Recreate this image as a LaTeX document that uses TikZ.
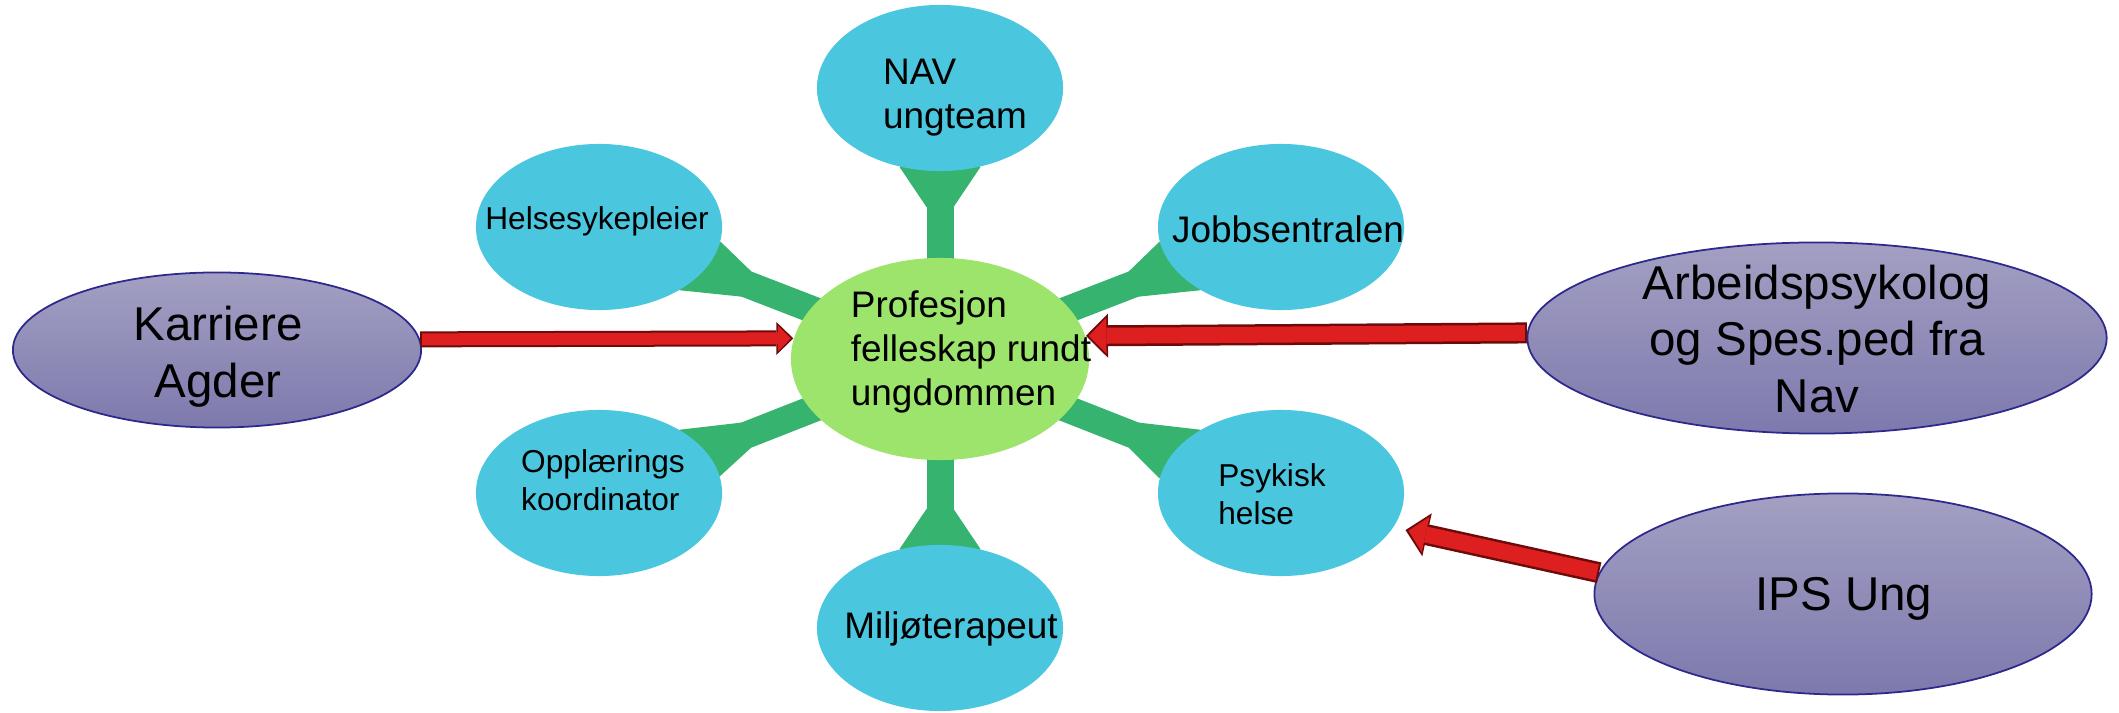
\documentclass[tikz,border=0pt]{standalone}
\usepackage{fontspec}
\setmainfont{Liberation Sans}
\usetikzlibrary{shapes.geometric,arrows.meta,calc,backgrounds}

\definecolor{ringblue}{RGB}{74,198,223}
\definecolor{hubgreen}{RGB}{157,228,108}
\definecolor{spokegreen}{RGB}{53,179,111}
\definecolor{partnertop}{RGB}{163,160,195}
\definecolor{partnerbot}{RGB}{125,121,173}
\definecolor{partnerline}{RGB}{45,40,140}
\definecolor{arrowred}{RGB}{221,31,31}
\definecolor{arrowdark}{RGB}{110,10,10}

\tikzset{
  ring/.style={ellipse,fill=ringblue,inner sep=0pt,minimum width=2.46cm,minimum height=1.66cm},
  hubnode/.style={ellipse,fill=hubgreen,inner sep=0pt,minimum width=2.98cm,minimum height=2.02cm},
  partner/.style={ellipse,draw=partnerline,line width=0.5pt,top color=partnertop,bottom color=partnerbot,inner sep=0pt},
  txt/.style={inner sep=0pt,align=left},
  smalltxt/.style={txt,font=\fontsize{9}{10.8}\selectfont},
  midtxt/.style={txt,font=\fontsize{10.5}{12.5}\selectfont},
  bigtxt/.style={txt,align=center,font=\fontsize{13.5}{16.1}\selectfont},
  spoke/.style={spokegreen,line width=0.27cm},
  bigarrow/.style={draw=arrowdark,line width=0.21cm,-{Triangle[length=0.22cm,width=0.44cm,line width=0pt]},
    postaction={draw=arrowred,line width=0.16cm,-{Triangle[length=0.175cm,width=0.36cm,line width=0pt]},shorten >=0.03cm,shorten <=0.02cm}},
  slimarrow/.style={draw=arrowdark,line width=0.16cm,-{Triangle[length=0.17cm,width=0.33cm,line width=0pt]},
    postaction={draw=arrowred,line width=0.12cm,-{Triangle[length=0.13cm,width=0.26cm,line width=0pt]},shorten >=0.025cm,shorten <=0.02cm}}
}

\begin{document}
\begin{tikzpicture}[x=0.01cm,y=-0.01cm]
  \useasboundingbox (0,0) rectangle (2119,713);
  % Hub
  \node[hubnode] (hub) at (940,359) {};
  % Ring
  \node[ring] (nav) at (940,88) {};
  \node[ring] (helse) at (599,227) {};
  \node[ring] (jobb) at (1281,227) {};
  \node[ring] (oppl) at (599,493) {};
  \node[ring] (psyk) at (1281,493) {};
  \node[ring] (milj) at (940,628) {};
  % Partners
  \node[partner,minimum width=4.08cm,minimum height=1.55cm] (karr) at (217,350) {};
  \node[partner,minimum width=5.79cm,minimum height=1.91cm] (arb) at (1817,338) {};
  \node[partner,minimum width=4.97cm,minimum height=2.01cm] (ips) at (1843,594) {};
  % Spokes
  \begin{scope}[on background layer]
    \draw[spoke] (hub.center) -- (nav.center);
    \draw[spoke] (hub.center) -- (helse.center);
    \draw[spoke] (hub.center) -- (jobb.center);
    \draw[spoke] (hub.center) -- (oppl.center);
    \draw[spoke] (hub.center) -- (psyk.center);
    \draw[spoke] (hub.center) -- (milj.center);
    \fill[spokegreen] (nav.243) -- ($(nav)!1.198cm!-6.47:(hub)$) -- ($(nav)!1.198cm!6.47:(hub)$) -- (nav.297) -- (nav.center) -- cycle;
    \fill[spokegreen] (milj.63) -- ($(milj)!1.198cm!-6.47:(hub)$) -- ($(milj)!1.198cm!6.47:(hub)$) -- (milj.117) -- (milj.center) -- cycle;
    \fill[spokegreen] (helse.322) -- ($(helse)!1.586cm!-4.88:(hub)$) -- ($(helse)!1.586cm!4.88:(hub)$) -- (helse.353) -- (helse.center) -- cycle;
    \fill[spokegreen] (jobb.187) -- ($(jobb)!1.586cm!-4.88:(hub)$) -- ($(jobb)!1.586cm!4.88:(hub)$) -- (jobb.218) -- (jobb.center) -- cycle;
    \fill[spokegreen] (oppl.8) -- ($(oppl)!1.586cm!-4.88:(hub)$) -- ($(oppl)!1.586cm!4.88:(hub)$) -- (oppl.38) -- (oppl.center) -- cycle;
    \fill[spokegreen] (psyk.142) -- ($(psyk)!1.586cm!-4.88:(hub)$) -- ($(psyk)!1.586cm!4.88:(hub)$) -- (psyk.173) -- (psyk.center) -- cycle;
  \end{scope}
  % Texts
  \node[midtxt] (hubT) at (971,352) {Profesjon\\felleskap rundt\\ungdommen};
  \node[midtxt] (navT) at (955,98) {NAV\\ungteam};
  \node[smalltxt] (helseT) at (597,221) {Helsesykepleier};
  \node[midtxt] (jobbT) at (1288,229) {Jobbsentralen};
  \node[smalltxt] (opplT) at (603,480) {Opplærings\\koordinator};
  \node[smalltxt] (psykT) at (1272,494) {Psykisk\\helse};
  \node[midtxt] (miljT) at (951,629) {Miljøterapeut};
  \node[bigtxt] (karrT) at (218,357) {Karriere\\Agder};
  \node[bigtxt] (arbT) at (1817,339) {Arbeidspsykolog\\og Spes.ped fra\\Nav};
  \node[bigtxt] (ipsT) at (1844,599) {IPS Ung};
  % Arrows
  \coordinate (ipsend) at ($(psyk.343)!0.12cm!(ips.175)$);
  \draw[slimarrow] (karr.3) -- (hub.172.4);
  \draw[bigarrow] (arb.179.2) -- (hub.9.8);
  \draw[bigarrow] (ips.175) -- (ipsend);
\end{tikzpicture}
\end{document}
